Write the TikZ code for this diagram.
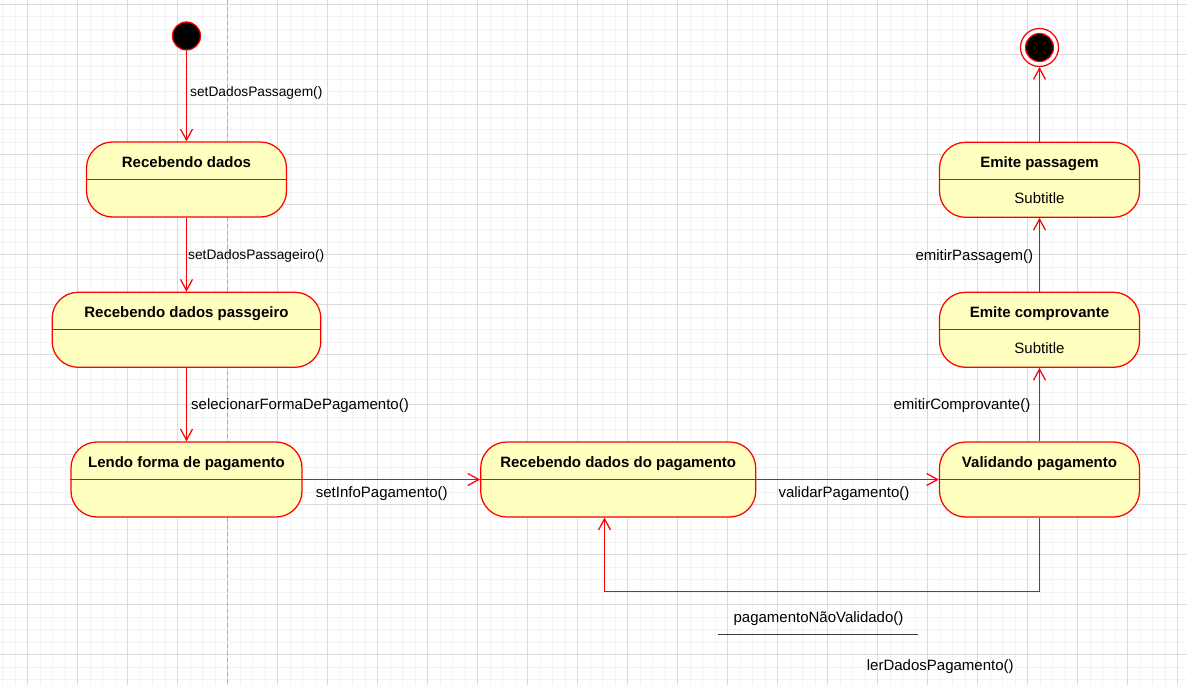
\documentclass[tikz,border=0pt]{standalone}
\usepackage{fontspec}
\setmainfont{Liberation Sans}
\usetikzlibrary{arrows.meta}
\definecolor{statefill}{HTML}{FFFFC0}
\definecolor{statered}{HTML}{FF0000}
\definecolor{gridminor}{HTML}{F3F3F3}
\definecolor{gridmajor}{HTML}{DCDCDC}
\definecolor{pagebreak}{HTML}{ADADAD}
\definecolor{guardline}{HTML}{3C3C3C}
\begin{document}
\begin{tikzpicture}[x=1pt,y=-1pt,
  stategfx/.style={draw=statered, fill=statefill, line width=1.25pt,
    rounded corners=26pt, minimum height=75pt, inner sep=0pt},
  ttl/.style={font=\fontsize{15}{18}\selectfont\bfseries, inner sep=0pt, anchor=base},
  subttl/.style={font=\fontsize{15}{18}\selectfont, inner sep=0pt, anchor=base},
  lbl/.style={font=\fontsize{15}{18}\selectfont, inner sep=0pt},
  lblsmall/.style={font=\fontsize{13.75}{16}\selectfont, inner sep=0pt},
  tr/.style={draw=statered, line width=1.25pt,
    -{Straight Barb[length=11pt,width=12pt,line width=1.25pt]}},
  divider/.style={draw=statered, line width=1.25pt},
  initial/.style={circle, draw=statered, fill=black, line width=1.25pt,
    minimum size=28pt, inner sep=0pt},
]
% canvas and drawing grid
\useasboundingbox (0,0) rectangle (1187,685);
\fill[white] (0,0) rectangle (1187,685);
\foreach \k in {0,...,94} {\draw[gridminor, line width=1pt] ({2.5+12.5*\k},0) -- ({2.5+12.5*\k},685);}
\foreach \k in {0,...,54} {\draw[gridminor, line width=1pt] (0,{4.5+12.5*\k}) -- (1187,{4.5+12.5*\k});}
\foreach \k in {0,...,23} {\draw[gridmajor, line width=1pt] ({27.5+50*\k},0) -- ({27.5+50*\k},685);}
\foreach \k in {0,...,13} {\draw[gridmajor, line width=1pt] (0,{4.5+50*\k}) -- (1187,{4.5+50*\k});}
% page break marker
\draw[pagebreak, line width=1.5pt, dash pattern=on 4pt off 3pt] (227.5,0) -- (227.5,685);

% initial and final states
\node[initial] (s0) at (186.5,36) {};
\node[circle, draw=statered, fill=white, line width=1.25pt, minimum size=38pt, inner sep=0pt] (sf) at (1039.5,47.5) {};
\node[initial] (sfdot) at (sf.center) {};

% states
\node[stategfx, minimum width=200pt]   (b1) at (186.5,179.5) {};
\node[stategfx, minimum width=268.7pt] (b2) at (186.5,329.8) {};
\node[stategfx, minimum width=231pt]   (b3) at (186.5,479.5) {};
\node[stategfx, minimum width=275pt]   (b4) at (618.2,479.5) {};
\node[stategfx, minimum width=200pt]   (b5) at (1039.5,479.5) {};
\node[stategfx, minimum width=200pt]   (b6) at (1039.5,329.8) {};
\node[stategfx, minimum width=200pt]   (b7) at (1039.5,179.8) {};
\foreach \b in {b1,b2,b3,b4,b5,b6,b7} {\draw[divider] (\b.west) -- (\b.east);}

\node[ttl] (t1) at ([yshift=12.5pt]b1.center) {Recebendo dados};
\node[ttl] (t2) at ([yshift=12.5pt]b2.center) {Recebendo dados passgeiro};
\node[ttl] (t3) at ([yshift=12.5pt]b3.center) {Lendo forma de pagamento};
\node[ttl] (t4) at ([yshift=12.5pt]b4.center) {Recebendo dados do pagamento};
\node[ttl] (t5) at ([yshift=12.5pt]b5.center) {Validando pagamento};
\node[ttl] (t6) at ([yshift=12.5pt]b6.center) {Emite comprovante};
\node[ttl] (t7) at ([yshift=12.5pt]b7.center) {Emite passagem};
\node[subttl] (u6) at ([yshift=-24pt]b6.center) {Subtitle};
\node[subttl] (u7) at ([yshift=-24pt]b7.center) {Subtitle};

% transitions
\draw[tr] (s0) -- (b1.north);
\draw[tr] (b1.south) -- (b2.north);
\draw[tr] (b2.south) -- (b3.north);
\draw[tr] (b3.east) -- (b4.west);
\draw[tr] (b4.east) -- (b5.west);
\coordinate (lp) at (604.5,591.5);
\draw[tr] (b5.south) |- (lp) -- (lp |- b4.south);
\draw[tr] (b5.north) -- (b6.south);
\draw[tr] (b6.north) -- (b7.south);
\draw[tr] (b7.north) -- (sf.south);

% transition labels
\node[lblsmall, anchor=base west] (l1) at (190,96.5) {setDadosPassagem()};
\node[lblsmall, anchor=base west] (l2) at (188,259.5) {setDadosPassageiro()};
\node[lbl, anchor=base west] (l3) at (191,409.8) {selecionarFormaDePagamento()};
\node[lbl, anchor=base west] (l4) at (315.7,497.3) {setInfoPagamento()};
\node[lbl, anchor=base west] (l5) at (778.3,497) {validarPagamento()};
\node[lbl, anchor=base east] (l6) at (1033.3,260.3) {emitirPassagem()};
\node[lbl, anchor=base east] (l7) at (1030.5,409.8) {emitirComprovante()};
\node[lbl, anchor=base] (l8) at (818.5,622.5) {pagamentoNãoValidado()};
\coordinate (g1) at (718.3,634.5);
\coordinate (g2) at (917.7,634.5);
\draw[guardline, line width=1.25pt] (g1) -- (g2);
\node[lbl, anchor=base west] (l9) at (866.7,670) {lerDadosPagamento()};
\end{tikzpicture}
\end{document}
